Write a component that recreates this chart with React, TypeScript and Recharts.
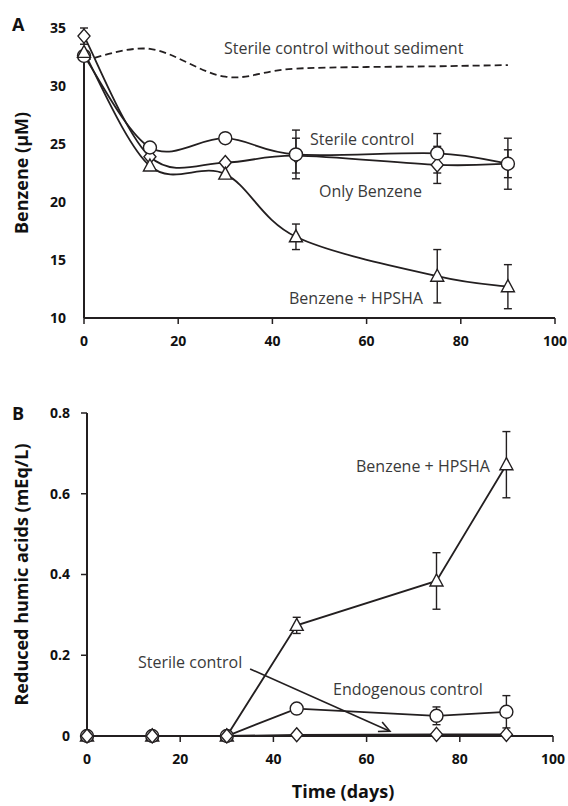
import { LineChart, Line, XAxis, YAxis, ErrorBar, ReferenceLine } from 'recharts'

const INK = '#231f20'
const NOTE = '#3a3a3a'
const FONT = '"Open Sans", "Liberation Sans", sans-serif'

// sampling days (both panels)
const days = [0, 14, 30, 45, 75, 90]
const xTicks = [0, 20, 40, 60, 80, 100]

// panel A: benzene (µM)
const noSediment = [32.2, 33.2, 30.8, 31.5, 31.7, 31.8]
const sterileA = [32.6, 24.7, 25.5, 24.1, 24.2, 23.3]
const sterileAErr = [0, 0, 0, 2.1, 1.7, 2.2]
const onlyBenzene = [34.3, 23.9, 23.4, 24.0, 23.2, 23.3]
const onlyBenzeneErr = [0.7, 0, 0, 1.5, 1.6, 1.2]
const hpshaA = [32.9, 23.1, 22.4, 17.0, 13.6, 12.7]
const hpshaAErr = [0, 0, 0, 1.1, 2.3, 1.9]
const ticksA = [10, 15, 20, 25, 30, 35]
const axisTopA = 32.6

// panel B: reduced humic acids (mEq/L)
const hpshaB = [0, 0, 0, 0.274, 0.384, 0.672]
const hpshaBErr = [0, 0, 0, 0.02, 0.07, 0.082]
const endogenousB = [0, 0, 0, 0.068, 0.05, 0.06]
const endogenousBErr = [0, 0, 0, 0, 0.022, 0.04]
const sterileB = [0, 0, 0, 0.003, 0.004, 0.004]
const ticksB = [0, 0.2, 0.4, 0.6, 0.8]
const arrowFrom = { x: 35, y: 0.166 }
const arrowTo = { x: 65, y: 0.012 }

const dataA = days.map((d, i) => ({
  day: d,
  noSed: noSediment[i],
  sterile: sterileA[i],
  sterileErr: sterileAErr[i],
  benzene: onlyBenzene[i],
  benzeneErr: onlyBenzeneErr[i],
  hpsha: hpshaA[i],
  hpshaErr: hpshaAErr[i],
}))

const dataB = days.map((d, i) => ({
  day: d,
  hpsha: hpshaB[i],
  hpshaErr: hpshaBErr[i],
  endo: endogenousB[i],
  endoErr: endogenousBErr[i],
  sterile: sterileB[i],
}))

// Excel-like smoothed line (Catmull-Rom style bezier)
const excelSmooth = (ctx: any) => {
  let pts: number[][] = []
  return {
    areaStart() {},
    areaEnd() {},
    lineStart() {
      pts = []
    },
    point(x: number, y: number) {
      pts.push([+x, +y])
    },
    lineEnd() {
      const n = pts.length
      if (!n) return
      ctx.moveTo(pts[0][0], pts[0][1])
      for (let i = 0; i < n - 1; i++) {
        const p0 = pts[Math.max(i - 1, 0)]
        const p1 = pts[i]
        const p2 = pts[i + 1]
        const p3 = pts[Math.min(i + 2, n - 1)]
        ctx.bezierCurveTo(
          p1[0] + (p2[0] - p0[0]) / 6,
          p1[1] + (p2[1] - p0[1]) / 6,
          p2[0] - (p3[0] - p1[0]) / 6,
          p2[1] - (p3[1] - p1[1]) / 6,
          p2[0],
          p2[1]
        )
      }
    },
  }
}

const ringDot = (p: any) => (
  <circle key={`c-${p.index}`} cx={p.cx} cy={p.cy} r={6.5} fill="#fff" stroke={INK} strokeWidth={1.4} />
)
const diamondDot = (p: any) => (
  <path
    key={`d-${p.index}`}
    d={`M${p.cx},${p.cy - 7}L${p.cx + 6},${p.cy}L${p.cx},${p.cy + 7}L${p.cx - 6},${p.cy}Z`}
    fill="#fff"
    stroke={INK}
    strokeWidth={1.4}
  />
)
const triangleDot = (p: any) => (
  <path
    key={`t-${p.index}`}
    d={`M${p.cx},${p.cy - 7}L${p.cx + 6.5},${p.cy + 5}L${p.cx - 6.5},${p.cy + 5}Z`}
    fill="#fff"
    stroke={INK}
    strokeWidth={1.4}
  />
)

const arrowShape = (p: any) => {
  const { x1, y1, x2, y2 } = p
  if (x1 == null) return <g />
  const a = Math.atan2(y2 - y1, x2 - x1)
  const h = 12
  const w = 0.45
  return (
    <g stroke={INK} strokeWidth={1.6} fill="none">
      <line x1={x1} y1={y1} x2={x2} y2={y2} />
      <polyline
        points={`${x2 - h * Math.cos(a - w)},${y2 - h * Math.sin(a - w)} ${x2},${y2} ${x2 - h * Math.cos(a + w)},${y2 - h * Math.sin(a + w)}`}
      />
    </g>
  )
}

const tickStyle = { fill: '#111', fontSize: 14, fontWeight: 700, fontFamily: FONT }
const titleStyle = { fill: '#111', fontSize: 18, fontWeight: 700, fontFamily: FONT, textAnchor: 'middle' as const }

function Note({ x, y, children }: { x: number; y: number; children: string }) {
  return (
    <div
      style={{
        position: 'absolute',
        left: x,
        top: y,
        transform: 'translateY(-50%)',
        whiteSpace: 'nowrap',
        fontSize: 16,
        color: NOTE,
        lineHeight: 1,
      }}
    >
      {children}
    </div>
  )
}

function Panel({ x, y, children }: { x: number; y: number; children: string }) {
  return (
    <div
      style={{
        position: 'absolute',
        left: x,
        top: y,
        transform: 'translateY(-50%)',
        fontSize: 18,
        fontWeight: 700,
        color: '#111',
        lineHeight: 1,
      }}
    >
      {children}
    </div>
  )
}

export default function App() {
  return (
    <div
      style={{
        position: 'absolute',
        left: 0,
        top: 0,
        width: 568,
        height: 806,
        background: '#fff',
        fontFamily: FONT,
      }}
    >
      <div style={{ position: 'absolute', left: 0, top: 0 }}>
        <LineChart width={568} height={380} data={dataA} margin={{ top: 28, right: 13, bottom: 32, left: 0 }}>
          <XAxis
            dataKey="day"
            type="number"
            domain={[0, 100]}
            ticks={xTicks}
            height={30}
            tick={tickStyle}
            tickMargin={12}
            axisLine={{ stroke: INK, strokeWidth: 2 }}
            tickLine={{ stroke: INK, strokeWidth: 1.5 }}
          />
          <YAxis
            type="number"
            domain={[10, 35]}
            ticks={ticksA}
            width={84}
            tick={tickStyle}
            tickMargin={12}
            axisLine={false}
            tickLine={false}
            label={{ value: 'Benzene (μM)', angle: -90, position: 'insideLeft', offset: 22, style: titleStyle }}
          />
          <ReferenceLine
            segment={[
              { x: 0, y: 10 },
              { x: 0, y: axisTopA },
            ]}
            stroke={INK}
            strokeWidth={2}
          />
          <Line
            dataKey="noSed"
            type={excelSmooth as any}
            stroke={INK}
            strokeWidth={1.8}
            strokeDasharray="7 4"
            dot={false}
            isAnimationActive={false}
          />
          <Line
            dataKey="benzene"
            type={excelSmooth as any}
            stroke={INK}
            strokeWidth={1.8}
            dot={diamondDot}
            isAnimationActive={false}
          >
            <ErrorBar dataKey="benzeneErr" direction="y" width={4} stroke={INK} strokeWidth={1.4} />
          </Line>
          <Line
            dataKey="sterile"
            type={excelSmooth as any}
            stroke={INK}
            strokeWidth={1.8}
            dot={ringDot}
            isAnimationActive={false}
          >
            <ErrorBar dataKey="sterileErr" direction="y" width={4} stroke={INK} strokeWidth={1.4} />
          </Line>
          <Line
            dataKey="hpsha"
            type={excelSmooth as any}
            stroke={INK}
            strokeWidth={1.8}
            dot={triangleDot}
            isAnimationActive={false}
          >
            <ErrorBar dataKey="hpshaErr" direction="y" width={4} stroke={INK} strokeWidth={1.4} />
          </Line>
        </LineChart>
      </div>

      <div style={{ position: 'absolute', left: 0, top: 380 }}>
        <LineChart width={568} height={426} data={dataB} margin={{ top: 33, right: 15, bottom: 10, left: 0 }}>
          <XAxis
            dataKey="day"
            type="number"
            domain={[0, 100]}
            ticks={xTicks}
            height={60}
            tick={tickStyle}
            tickMargin={12}
            axisLine={{ stroke: INK, strokeWidth: 2 }}
            tickLine={{ stroke: INK, strokeWidth: 1.5 }}
            label={{ value: 'Time (days)', position: 'insideBottom', offset: -2, dx: 23, style: titleStyle }}
          />
          <YAxis
            type="number"
            domain={[0, 0.8]}
            ticks={ticksB}
            width={87}
            tick={tickStyle}
            tickMargin={11}
            axisLine={{ stroke: INK, strokeWidth: 2 }}
            tickLine={{ stroke: INK, strokeWidth: 1.5 }}
            label={{
              value: 'Reduced humic acids (mEq/L)',
              angle: -90,
              position: 'insideLeft',
              offset: 22,
              style: titleStyle,
            }}
          />
          <ReferenceLine segment={[arrowFrom, arrowTo]} shape={arrowShape} />
          <Line dataKey="hpsha" type="linear" stroke={INK} strokeWidth={1.8} dot={triangleDot} isAnimationActive={false}>
            <ErrorBar dataKey="hpshaErr" direction="y" width={4} stroke={INK} strokeWidth={1.4} />
          </Line>
          <Line dataKey="endo" type="linear" stroke={INK} strokeWidth={1.8} dot={ringDot} isAnimationActive={false}>
            <ErrorBar dataKey="endoErr" direction="y" width={4} stroke={INK} strokeWidth={1.4} />
          </Line>
          <Line dataKey="sterile" type="linear" stroke={INK} strokeWidth={1.8} dot={diamondDot} isAnimationActive={false} />
        </LineChart>
      </div>

      <Panel x={12} y={24}>A</Panel>
      <Panel x={12} y={413}>B</Panel>

      <Note x={224} y={48}>Sterile control without sediment</Note>
      <Note x={310} y={139}>Sterile control</Note>
      <Note x={319} y={191}>Only Benzene</Note>
      <Note x={289} y={298}>Benzene + HPSHA</Note>

      <Note x={356} y={466}>Benzene + HPSHA</Note>
      <Note x={138} y={662}>Sterile control</Note>
      <Note x={333} y={689}>Endogenous control</Note>
    </div>
  )
}
